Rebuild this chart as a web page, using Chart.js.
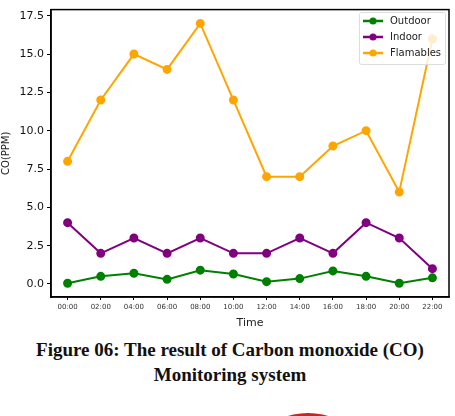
<!DOCTYPE html>
<html>
<head>
<meta charset="utf-8">
<script src="https://cdn.jsdelivr.net/npm/chart.js@4"></script>
<style>
  html, body { margin: 0; padding: 0; background: #fff; overflow: hidden; }
  #wrap { position: relative; width: 455px; height: 416px; }
  #box { position: absolute; left: 0; top: 0; width: 455px; height: 330px; }
  #caption {
    position: absolute; left: 0; top: 337px; width: 460px; text-align: center;
    font-family: "Liberation Serif", "Times New Roman", serif; font-weight: bold;
    font-size: 19px; line-height: 25px; color: #111;
  }
  #blob {
    position: absolute; left: 270px; top: 413px; width: 76px; height: 40px;
    border-radius: 50%; background: #c82424;
  }
</style>
</head>
<body>
<div id="wrap">
  <div id="box"><canvas id="co-chart"></canvas></div>
  <div id="caption">Figure 06: The result of Carbon monoxide (CO)<br>Monitoring system</div>
  <div id="blob"></div>
</div>
<script>
var timeLabels = ["00:00", "02:00", "04:00", "06:00", "08:00", "10:00", "12:00", "14:00", "16:00", "18:00", "20:00", "22:00"];
var outdoor = [0.05, 0.5, 0.7, 0.3, 0.9, 0.65, 0.15, 0.35, 0.85, 0.5, 0.05, 0.4];
var indoor = [4, 2, 3, 2, 3, 2, 2, 3, 2, 4, 3, 1];
var flamables = [8, 12, 15, 14, 17, 12, 7, 7, 9, 10, 6, 16];
var yTicks = [0, 2.5, 5, 7.5, 10, 12.5, 15, 17.5];

// matplotlib-ish frame + legend box in the top right corner
var framePlugin = {
  id: "frame",
  afterDraw: function (chart) {
    var c = chart.ctx, a = chart.chartArea;
    c.save();
    c.strokeStyle = "#000";
    c.lineWidth = 1.5;
    c.strokeRect(a.left, a.top, a.right - a.left, a.bottom - a.top);

    var bx = 359, by = 12, bw = 86, bh = 52;
    c.fillStyle = "rgba(255,255,255,0.8)";
    c.strokeStyle = "#ddd";
    c.lineWidth = 1;
    c.beginPath();
    c.roundRect(bx + 0.5, by + 0.5, bw, bh, 2);
    c.fill();
    c.stroke();
    c.font = "10px 'DejaVu Sans'";
    c.textBaseline = "middle";
    chart.data.datasets.forEach(function (ds, i) {
      var yy = by + 9 + i * 16;
      c.strokeStyle = ds.borderColor;
      c.lineWidth = 2.5;
      c.beginPath();
      c.moveTo(bx + 4, yy);
      c.lineTo(bx + 24, yy);
      c.stroke();
      c.fillStyle = ds.borderColor;
      c.beginPath();
      c.arc(bx + 14, yy, 3.5, 0, Math.PI * 2);
      c.fill();
      c.fillStyle = "#222";
      c.fillText(ds.label, bx + 31, yy);
    });
    c.restore();
  }
};

new Chart("co-chart", {
  type: "line",
  data: {
    labels: timeLabels,
    datasets: [{
      label: "Outdoor",
      data: outdoor,
      borderColor: "#008000",
      backgroundColor: "#008000",
      borderWidth: 2,
      pointRadius: 3.5,
      tension: 0
    }, {
      label: "Indoor",
      data: indoor,
      borderColor: "#800080",
      backgroundColor: "#800080",
      borderWidth: 2,
      pointRadius: 3.5,
      tension: 0
    }, {
      label: "Flamables",
      data: flamables,
      borderColor: "#FFA500",
      backgroundColor: "#FFA500",
      borderWidth: 2,
      pointRadius: 3.5,
      tension: 0
    }]
  },
  options: {
    responsive: true,
    maintainAspectRatio: false,
    animation: false,
    layout: { padding: { top: 4, right: 4, left: 0, bottom: 0 } },
    plugins: {
      legend: { display: false },
      tooltip: { enabled: false }
    },
    scales: {
      x: {
        offset: true,
        grid: { display: true, drawOnChartArea: false, color: "#000", tickLength: 3 },
        border: { color: "#000", width: 1.5 },
        ticks: { color: "#333", font: { size: 7, family: "DejaVu Sans" }, padding: 3, maxRotation: 0, autoSkip: false },
        title: { display: true, text: "Time", color: "#222", font: { size: 11, family: "DejaVu Sans" }, padding: { top: 2, bottom: 0 } },
        afterFit: function (s) { s.height = 33; }
      },
      y: {
        min: -0.85,
        max: 17.9,
        afterBuildTicks: function (s) { s.ticks = yTicks.map(function (v) { return { value: v }; }); },
        grid: { display: true, drawOnChartArea: false, color: "#000", tickLength: 4 },
        border: { color: "#000", width: 1.5 },
        ticks: {
          color: "#111",
          font: { size: 11, family: "DejaVu Sans" },
          padding: 3,
          callback: function (v) { return Number(v).toFixed(1); }
        },
        title: { display: true, text: "CO(PPM)", color: "#222", font: { size: 10, family: "DejaVu Sans" }, padding: { top: 0, bottom: 4 } },
        afterFit: function (s) { s.width = 51; }
      }
    }
  },
  plugins: [framePlugin]
});
</script>
</body>
</html>
